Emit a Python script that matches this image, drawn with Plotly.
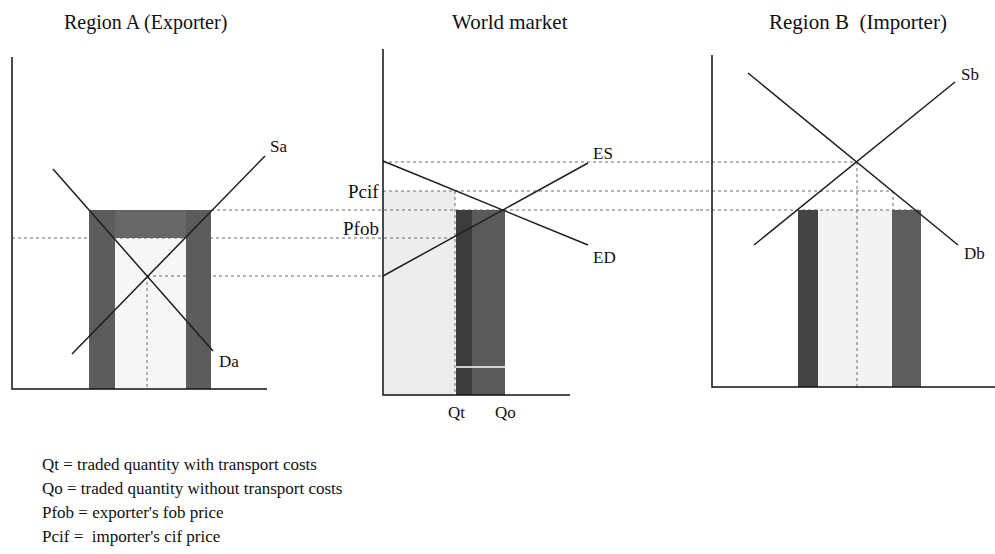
import plotly.graph_objects as go

# ---------------- data (chart units: quantity q, price p) ----------------
# shared price levels
P_O = 179        # free-trade price without transport costs
P_FOB = 151      # exporter's fob price
P_CIF = 198      # importer's cif price
P_A = 113        # autarky price region A
P_B = 227        # autarky price region B

# Region A (exporter)
A_AXIS_Q = [0, 255]
A_AXIS_P = [0, 332]
A_SA_Q = [60, 253]
A_SA_P = [35, 233]
A_DA_Q = [41, 201]
A_DA_P = [220, 38]
A_Q_AUT = 135
A_FRAME_OUT = [77, 199]
A_FRAME_IN = [103, 174]

# World market
W_AXIS_Q = [0, 187]
W_AXIS_P = [-6, 340]
W_ED_Q = [0, 205]
W_ED_P = [228, 144]
W_ES_Q = [0, 205]
W_ES_P = [113, 226]
Q_T = 73
Q_O = 122
W_WHITE_P = 22

# Region B (importer)
B_AXIS_Q = [0, 283]
B_AXIS_P = [2, 334]
B_DB_Q = [36, 246]
B_DB_P = [316, 144]
B_SB_Q = [42, 243]
B_SB_P = [144, 307]
B_Q_AUT = 145
B_Q_CIF = 181
B_BAR_L = [86, 106]
B_BAR_R = [180, 209]

TITLES = ["Region A (Exporter)", "World market", "Region B  (Importer)"]
NOTES = ["Qt = traded quantity with transport costs",
         "Qo = traded quantity without transport costs",
         "Pfob = exporter's fob price",
         "Pcif =  importer's cif price"]

# ---------------- layout of panels ----------------
X_RANGES = [[-12, 318], [-53, 317], [-12, 283]]
X_DOMAINS = [[0, 330 / 995], [330 / 995, 700 / 995], [700 / 995, 1]]
XA = ["x", "x2", "x3"]
SERIF = "Liberation Serif, Times New Roman, serif"

fig = go.Figure()


def add(panel, q, p, **kw):
    fig.add_trace(go.Scatter(x=q, y=p, xaxis=XA[panel], yaxis="y", mode="lines",
                             hoverinfo="skip", showlegend=False, **kw))


def line(panel, q, p, color="#1e1e1e", width=1.5):
    add(panel, q, p, line=dict(color=color, width=width))


def dotted(panel, q, p):
    add(panel, q, p, line=dict(color="#6a6a6a", width=1, dash="dot"))


def rect(panel, q0, q1, p0, p1, color):
    add(panel, [q0, q1, q1, q0, q0], [p0, p0, p1, p1, p0], fill="toself",
        fillcolor=color, line=dict(width=0))


def hdotted(p, start, end):
    (pa, qa), (pb, qb) = start, end
    for k in range(pa, pb + 1):
        s = qa if k == pa else X_RANGES[k][0]
        e = qb if k == pb else X_RANGES[k][1]
        dotted(k, [s, e], [p, p])


# light areas
rect(0, A_FRAME_IN[0], A_FRAME_IN[1], 0, P_FOB, "#f6f6f6")
rect(1, 0, Q_T - 1, W_AXIS_P[0], P_CIF, "#ededed")
rect(2, B_BAR_L[1], B_BAR_R[0], B_AXIS_P[0], P_O, "#f3f3f3")

# dotted guide lines
hdotted(P_FOB, (0, 0), (1, Q_T))
hdotted(P_O, (0, A_FRAME_OUT[1]), (2, B_BAR_R[1]))
hdotted(P_A, (0, A_Q_AUT), (1, 0))
hdotted(P_CIF, (1, 0), (2, B_Q_CIF))
hdotted(P_B, (1, 0), (2, B_Q_AUT))
dotted(0, [A_Q_AUT, A_Q_AUT], [P_A, 0])
dotted(1, [Q_T - 1, Q_T - 1], [P_CIF, W_AXIS_P[0]])
dotted(2, [B_Q_AUT, B_Q_AUT], [P_B, B_AXIS_P[0]])
dotted(2, [B_Q_CIF, B_Q_CIF], [P_CIF, P_O])

# dark areas
rect(0, A_FRAME_OUT[0], A_FRAME_IN[0], 0, P_O, "#5c5c5c")
rect(0, A_FRAME_IN[1], A_FRAME_OUT[1], 0, P_O, "#5c5c5c")
rect(0, A_FRAME_IN[0], A_FRAME_IN[1], P_FOB, P_O, "#676767")
rect(1, Q_T, Q_T + 16, W_AXIS_P[0], P_O, "#3c3c3c")
rect(1, Q_T + 16, Q_O, W_AXIS_P[0], P_O, "#5a5a5a")
line(1, [Q_T, Q_O], [W_WHITE_P, W_WHITE_P], color="#ffffff", width=1.5)
rect(2, B_BAR_L[0], B_BAR_L[1], B_AXIS_P[0], P_O, "#444444")
rect(2, B_BAR_R[0], B_BAR_R[1], B_AXIS_P[0], P_O, "#5e5e5e")

# supply / demand curves
line(0, A_SA_Q, A_SA_P)
line(0, A_DA_Q, A_DA_P)
line(1, W_ED_Q, W_ED_P)
line(1, W_ES_Q, W_ES_P)
line(2, B_DB_Q, B_DB_P)
line(2, B_SB_Q, B_SB_P)

# axes
for k, (aq, ap) in enumerate([(A_AXIS_Q, A_AXIS_P), (W_AXIS_Q, W_AXIS_P), (B_AXIS_Q, B_AXIS_P)]):
    line(k, [0, 0, aq[1]], [ap[1], ap[0], ap[0]], color="#111111", width=1.5)

# annotations
ann = []


def label(panel, q, p, text, xa="left", ya="middle", size=17):
    ann.append(dict(x=q, y=p, xref=XA[panel], yref="y", text=text, showarrow=False,
                    xanchor=xa, yanchor=ya, font=dict(family=SERIF, size=size, color="#111")))


label(0, A_SA_Q[1] + 3, A_SA_P[1] + 10, "Sa")
label(0, A_DA_Q[1] + 4, A_DA_P[1] - 10, "Da")
label(1, W_ES_Q[1] + 3, W_ES_P[1] + 10, "ES")
label(1, W_ED_Q[1] + 3, W_ED_P[1] - 12, "ED")
label(2, B_SB_Q[1] + 4, B_SB_P[1] + 8, "Sb")
label(2, B_DB_Q[1] + 4, B_DB_P[1] - 8, "Db")
label(1, -2, P_CIF, "Pcif", xa="right", size=19)
label(1, -2, P_FOB + 10, "Pfob", xa="right", size=19)
label(1, Q_T, W_AXIS_P[0] - 17, "Qt", xa="center")
label(1, Q_O, W_AXIS_P[0] - 17, "Qo", xa="center")

for k, t in enumerate(TITLES):
    cx = [145, 510, 858][k] / 995
    ann.append(dict(x=cx, y=1 - 22 / 554, xref="paper", yref="paper", text=t, showarrow=False,
                    xanchor="center", yanchor="middle",
                    font=dict(family=SERIF, size=[20, 21, 21][k], color="#111")))

for i, t in enumerate(NOTES):
    ann.append(dict(x=40 / 995, y=1 - (464 + 24 * i) / 554, xref="paper", yref="paper",
                    text=t, showarrow=False, xanchor="left", yanchor="middle",
                    font=dict(family=SERIF, size=17, color="#111")))

layout = dict(width=995, height=554, margin=dict(l=0, r=0, t=0, b=0),
              paper_bgcolor="white", plot_bgcolor="white", annotations=ann,
              yaxis=dict(domain=[0, 1], range=[-165, 389], visible=False, fixedrange=True))
for k in range(3):
    key = "xaxis" if k == 0 else f"xaxis{k + 1}"
    layout[key] = dict(domain=X_DOMAINS[k], range=X_RANGES[k], visible=False,
                       anchor="y", fixedrange=True)
fig.update_layout(**layout)
fig.write_html("out.html", config={"staticPlot": True},
               post_script="document.body.style.margin='0';document.body.style.overflow='hidden';")
